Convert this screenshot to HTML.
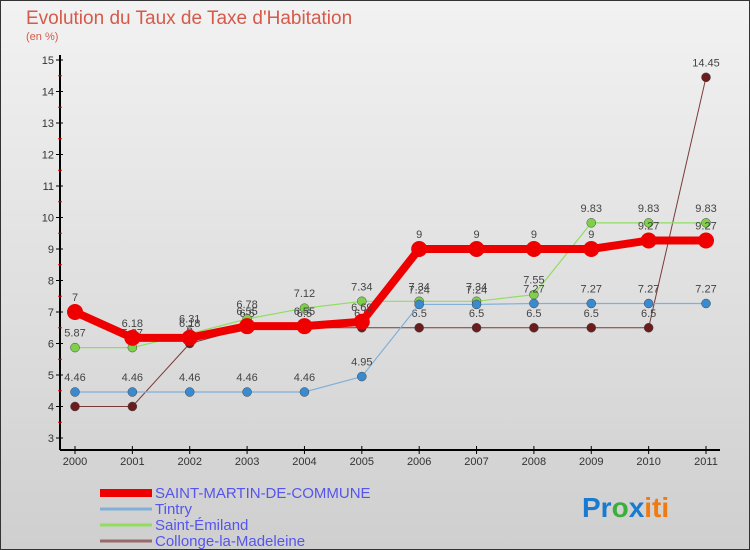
<!DOCTYPE html>
<html><head><meta charset="utf-8"><style>
body{margin:0;width:750px;height:550px;overflow:hidden;font-family:"Liberation Sans",sans-serif}
#c{position:absolute;left:0;top:0;width:748px;height:548px;border:1px solid #333;background:linear-gradient(#f2f2f2,#cfcfcf)}
</style></head><body>
<div id="c"></div>
<svg id="s" width="750" height="550" style="position:absolute;left:0;top:0">
<text x="26" y="24" font-size="19" fill="#d55a4a">Evolution du Taux de Taxe d'Habitation</text>
<text x="26" y="40" font-size="11" fill="#d55a4a">(en %)</text>
<g id="axes"></g><g id="series"></g><g id="legend"></g>
<text x="582" y="517" font-size="28" font-weight="bold"><tspan fill="#1a7ad0">Pr</tspan><tspan fill="#3cae3c">o</tspan><tspan fill="#1a7ad0">x</tspan><tspan fill="#f07a10">iti</tspan></text>
</svg>
<script>
const years=["2000","2001","2002","2003","2004","2005","2006","2007","2008","2009","2010","2011"];
const yTicks=[3,4,5,6,7,8,9,10,11,12,13,14,15];
const stMartin=[7,6.18,6.18,6.55,6.55,6.69,9,9,9,9,9.27,9.27];
const tintry=[4.46,4.46,4.46,4.46,4.46,4.95,7.24,7.24,7.27,7.27,7.27,7.27];
const emiland=[5.87,5.87,6.31,6.78,7.12,7.34,7.34,7.34,7.55,9.83,9.83,9.83];
const collonge=[4,4,6,6.5,6.5,6.5,6.5,6.5,6.5,6.5,6.5,14.45];
const names=["SAINT-MARTIN-DE-COMMUNE","Tintry","Saint-Émiland","Collonge-la-Madeleine"];
const NS="http://www.w3.org/2000/svg";
const X=i=>75+i*(706-75)/11, Y=v=>438-(v-3)*31.5;
function el(t,a,p){const e=document.createElementNS(NS,t);for(const k in a)e.setAttribute(k,a[k]);p.appendChild(e);return e;}
const ax=document.getElementById('axes');
let l=el('line',{x1:60,y1:55,x2:60,y2:450,stroke:'#000','stroke-width':2},ax);


l=el('line',{x1:60,y1:450,x2:720,y2:450,stroke:'#000','stroke-width':2},ax);


yTicks.forEach(v=>{el('line',{x1:56,y1:Y(v),x2:63,y2:Y(v),stroke:'#000'},ax);
 if(v<15)el('line',{x1:58,y1:Y(v+0.5),x2:62,y2:Y(v+0.5),stroke:'#e00'},ax);
 const t=el('text',{x:54,y:Y(v)+4,'font-size':11,'text-anchor':'end',fill:'#333'},ax);t.textContent=v;
 
 });
years.forEach((y,i)=>{el('line',{x1:X(i),y1:446,x2:X(i),y2:454,stroke:'#000'},ax);
 const t=el('text',{x:X(i),y:465,'font-size':11,'text-anchor':'middle',fill:'#333'},ax);t.textContent=y;
 
 });
const sg=document.getElementById('series');
const series=[[collonge,'#6b1d1d','#7a3a3a',1,4.5],[emiland,'#7ed04a','#90dd60',1.2,4.5],[tintry,'#3a8ad0','#80b0d8',1.2,4.5],[stMartin,'#ee0000','#ee0000',8,8]];
const snames=['collonge','emiland','tintry','saint-martin'];
series.forEach((s,k)=>{const [d,dot,line,w,r]=s;
 const p=el('polyline',{points:d.map((v,i)=>X(i)+','+Y(v)).join(' '),fill:'none',stroke:line,'stroke-width':w,'stroke-linejoin':'round'},sg);
 
 
 d.forEach((v,i)=>{const c=el('circle',{cx:X(i),cy:Y(v),r:r,fill:dot,stroke:'#444','stroke-width':k==3?0:0.5},sg);
  
  
  const t=el('text',{x:X(i),y:Y(v)-11,'font-size':11,'text-anchor':'middle',fill:'#444'},sg);t.textContent=v;
  
  });});
const lg=document.getElementById('legend');
const lc=['#ee0000','#80b0d8','#90dd60','#9a6a6a'],lw=[8,3,3,3];
names.forEach((n,i)=>{const y=493+i*16;
 const r=el('rect',{x:100,y:y-lw[i]/2,width:52,height:lw[i],fill:lc[i]},lg);
 
 
 const t=el('text',{x:155,y:y+5,'font-size':15,fill:'#5555ee'},lg);t.textContent=n;
 
 });
</script>
</body></html>
